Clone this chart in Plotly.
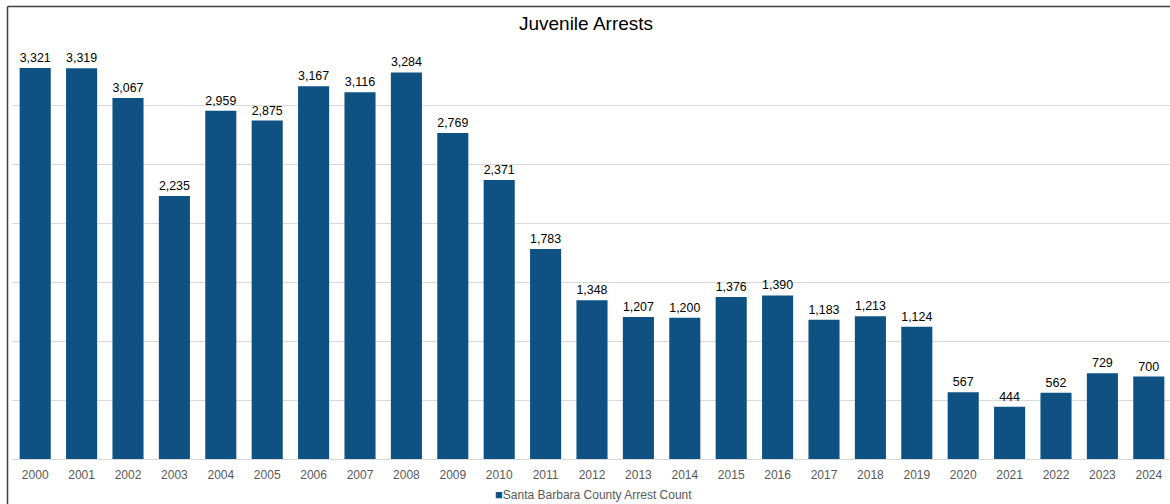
import plotly.graph_objects as go

# Juvenile arrest counts by year, Santa Barbara County
years = [str(y) for y in range(2000, 2025)]
arrests = [3321, 3319, 3067, 2235, 2959, 2875, 3167, 3116, 3284, 2769,
           2371, 1783, 1348, 1207, 1200, 1376, 1390, 1183, 1213, 1124,
           567, 444, 562, 729, 700]
series_name = "Santa Barbara County Arrest Count"
title_text = "Juvenile Arrests"

BAR_COLOR = "#0E5182"
W, H = 1170, 504
ML, MR, MT, MB = 12, 0, 47, 45
plot_w = W - ML - MR
plot_h = H - MT - MB

fig = go.Figure()
fig.add_trace(go.Bar(
    x=years,
    y=arrests,
    name=series_name,
    marker=dict(color=BAR_COLOR, line=dict(width=0)),
    text=[f"{v:,}" for v in arrests],
    textposition="outside",
    textfont=dict(family="Liberation Sans, Arial, sans-serif", size=12.5, color="#000000"),
    cliponaxis=False,
    showlegend=False,
))

# frame lines on the left and top of the chart area
left_x = (7.5 - ML) / plot_w
top_y = (H - MB - 6.5) / plot_h
fig.add_shape(type="line", xref="paper", yref="paper",
              x0=left_x, x1=left_x, y0=-0.2, y1=top_y,
              line=dict(color="#404040", width=1.5))
fig.add_shape(type="line", xref="paper", yref="paper",
              x0=left_x, x1=1.01, y0=top_y, y1=top_y,
              line=dict(color="#404040", width=1.5))

# series key below the axis
fig.add_annotation(
    xref="paper", yref="paper",
    x=(593 - ML) / plot_w, y=(H - MB - 494) / plot_h,
    xanchor="center", yanchor="middle", showarrow=False,
    text=f'<span style="color:{BAR_COLOR};font-size:13px">■</span>{series_name}',
    font=dict(family="Liberation Sans, Arial, sans-serif", size=12, color="#595959"),
)

fig.update_layout(
    width=W, height=H,
    margin=dict(l=ML, r=MR, t=MT, b=MB),
    paper_bgcolor="white",
    plot_bgcolor="white",
    bargap=0.33,
    title=dict(text=title_text, x=(586 - ML) / plot_w, xref="paper", xanchor="center",
               y=1 - 23 / H, yanchor="middle",
               font=dict(family="Liberation Sans, Arial, sans-serif", size=19, color="#000000")),
    xaxis=dict(
        type="category",
        range=[-0.5, 24.5 - 2 / 46.4],
        showgrid=False,
        showline=False,
        ticks="",
        ticklabelstandoff=7,
        tickfont=dict(family="Liberation Sans, Arial, sans-serif", size=12, color="#595959"),
        fixedrange=True,
    ),
    yaxis=dict(
        range=[0, 3500],
        dtick=500,
        showticklabels=False,
        showgrid=True,
        gridcolor="#D9D9D9",
        gridwidth=1,
        zeroline=True,
        zerolinecolor="#D9D9D9",
        zerolinewidth=1,
        showline=False,
        fixedrange=True,
    ),
    font=dict(family="Liberation Sans, Arial, sans-serif"),
)

fig.write_html("out.html")
